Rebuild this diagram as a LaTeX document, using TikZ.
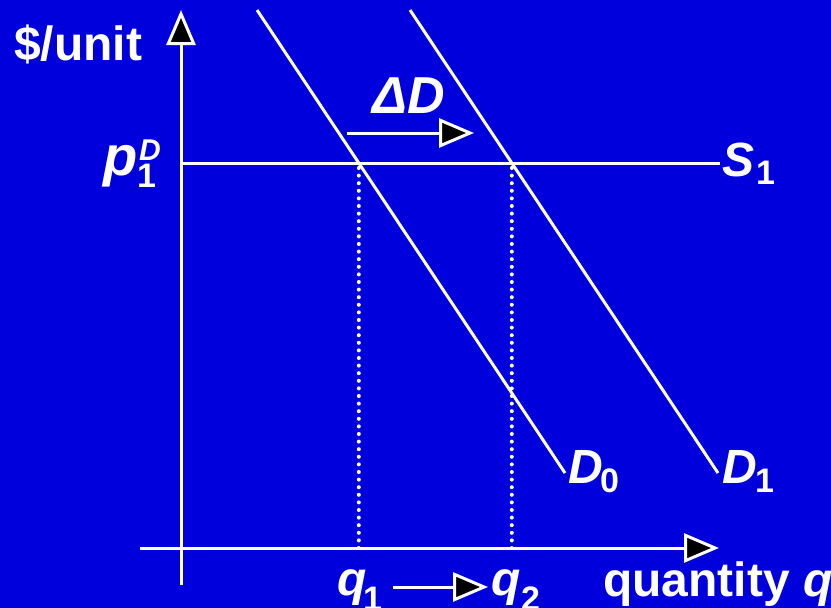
\documentclass[tikz,border=0pt]{standalone}
\usepackage{fontspec}
\setmainfont{Liberation Sans}
\usetikzlibrary{arrows.meta}
\definecolor{bg}{RGB}{0,0,221}
\begin{document}
\begin{tikzpicture}[x=1pt,y=-1pt,
  tip/.style={-{Triangle[fill=black,length=35pt,width=29pt,line width=3pt]}},
  ln/.style={draw=white,line width=3pt},
  dots/.style={draw=white,line width=4pt,line cap=round,dash pattern=on 0pt off 7.6pt},
  big/.style={text=white,inner sep=0pt,anchor=base west,font=\fontsize{48}{52}\selectfont\bfseries\itshape},
  bigup/.style={text=white,inner sep=0pt,anchor=base west,font=\fontsize{48}{52}\selectfont\bfseries},
  subs/.style={text=white,inner sep=0pt,anchor=base west,font=\fontsize{34}{36}\selectfont\bfseries},
  sups/.style={text=white,inner sep=0pt,anchor=base west,font=\fontsize{30}{32}\selectfont\bfseries\itshape},
]
\fill[bg] (0,0) rectangle (831,608);
\useasboundingbox (0,0) rectangle (831,608);

% axes
\coordinate (yb) at (181,585);
\coordinate (yt) at (181,10);
\coordinate (xl) at (140,548);
\coordinate (xr) at (719,548);
\draw[ln,tip] (yb) -- (yt);
\draw[ln,tip] (xl) -- (xr);

% supply
\coordinate (s0) at (181,163);
\coordinate (s1) at (720,163);
\draw[ln] (s0) -- (s1);

% demand curves
\coordinate (d0a) at (257,10);
\coordinate (d0b) at (565,473);
\coordinate (d1a) at (410,10);
\coordinate (d1b) at (718,473);
\draw[ln] (d0a) -- (d0b);
\draw[ln] (d1a) -- (d1b);

% equilibria and drop lines
\coordinate (e0) at (358.8,168);
\coordinate (e1) at (511.8,168);
\coordinate (f0) at (358.8,548);
\coordinate (f1) at (511.8,548);
\draw[dots] (e0) -- (f0);
\draw[dots] (e1) -- (f1);

% shift arrows
\coordinate (da) at (347,133);
\coordinate (db) at (474,133);
\draw[ln,tip] (da) -- (db);
\coordinate (qa) at (393,587);
\coordinate (qb) at (488,587);
\draw[ln,tip] (qa) -- (qb);

% labels
\node[bigup] (unit) at (14,60) {\$/unit};
\node[big] (p) at (103,175) {\fontsize{56}{60}\selectfont p};
\node[sups] (pD) at (139,160) {D};
\node[subs] (p1) at (137,187) {1};
\node[big] (dD) at (372,113) {\fontsize{52}{56}\selectfont ΔD};
\node[big] (S) at (722,176) {S};
\node[subs] (S1) at (756,184) {1};
\node[big] (D0) at (568,483) {D};
\node[subs] (D0s) at (600,492) {0};
\node[big] (D1) at (722,483) {D};
\node[subs] (D1s) at (755,492) {1};
\node[big] (q1) at (337,595) {q};
\node[subs] (q1s) at (363,610) {1};
\node[big] (q2) at (491,595) {q};
\node[subs] (q2s) at (521,610) {2};
\node[bigup] (qty) at (603,596) {quantity \textit{q}};
\end{tikzpicture}
\end{document}
